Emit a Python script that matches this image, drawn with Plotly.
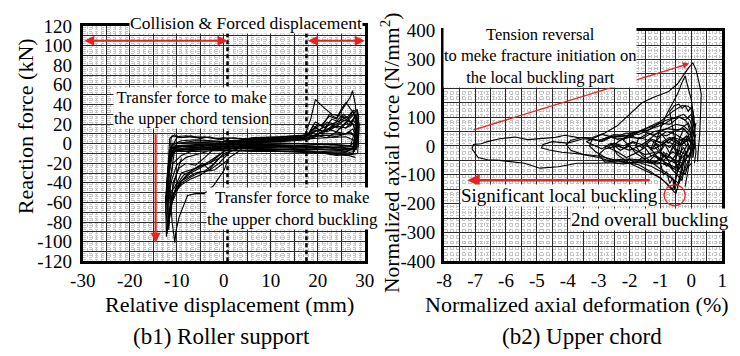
import plotly.graph_objects as go

# ---------------- (b1) Roller support: relative displacement (mm) vs reaction force (kN)
RS_C1_X = [0, 4, 8, 12, 16, 18, 20, 22, 24, 26, 27.5, 28, 27.6, 25, 21, 17, 12, 6, 0, -5, -9, -11, -11.6, -11.9, -11.7, -11.2, -10.5, -9, -6, -3, 0]
RS_C1_Y = [0, 1, 2, 2, 3, 4, 8, 6, 12, 10, 15, 8, -3, -4, -3, -2, -2, -3, -3, -2, -3, -4, -12, -28, -35, -15, 0, 3, 4, 3, 2]

RS_C2_X = [0, 5, 10, 15, 18, 19.5, 21, 23, 25, 26.5, 27.8, 28.3, 28, 26, 22, 18, 13, 8, 3, -2, -7, -10.5, -11.8, -12.2, -12, -11.4, -10.8, -9, -7, -4, 0]
RS_C2_Y = [2, 3, 3, 4, 5, 14, 10, 18, 15, 24, 30, 20, -6, -5, -4, -4, -3, -4, -3, -4, -4, -5, -20, -45, -60, -40, -20, -12, -8, -2, 2]

RS_C3_X = [0, 6, 12, 17, 18.5, 19.5, 21, 23, 25, 27, 28.2, 28.5, 27.8, 25, 20, 15, 10, 5, 0, -5, -9, -11, -12, -12.3, -11.8, -11, -9.5, -7, -4, -1, 1.5]
RS_C3_Y = [3, 4, 4, 5, 25, 45, 38, 30, 28, 22, 18, 5, -8, -6, -3, -2, -1, -2, -1, -2, -3, -5, -30, -70, -85, -55, -40, -30, -22, -15, -8]

RS_C4_X = [1.5, 6, 12, 17, 19, 21, 22.5, 24, 25, 26, 27, 27.4, 28, 28.3, 27.5, 25, 20, 15, 9, 3, -3, -8, -10.5, -11.5, -11, -10.4, -10.2, -9.5, -7.7, -6, -4.2, -2.2, 0.1, 1]
RS_C4_Y = [-8, 1, 3, 5, 15, 20, 28, 25, 33, 40, 48, 54, 40, 22, -5, -6, -5, -4, -3, -4, -5, -6, -8, -40, -80, -101, -90, -75, -53, -51, -51, -43, -27, -15]

RS_C5_X = [1, 5, 10, 15, 18, 20, 22, 24, 26, 27.5, 28.4, 28.7, 28.5, 26, 22, 17, 12, 7, 2, -3, -8, -11, -12, -12.1, -11.7, -11, -9, -6, -4, -2, 0]
RS_C5_Y = [-15, -2, 2, 4, 6, 10, 14, 20, 24, 30, 35, 28, 0, -9, -8, -7, -6, -6, -5, -5, -6, -8, -35, -92, -80, -60, -38, -30, -28, -20, -10]

RS_C6_X = [0, 6, 12, 17, 18.5, 20, 21.5, 23, 24.5, 25.5, 26.5, 27.5, 28, 27.5, 24, 19, 14, 8, 2, -4, -9, -11.2, -11.9, -11.6, -11.2, -10, -8.5, -6, -3, 0]
RS_C6_Y = [-10, 0, 4, 6, 12, 20, 16, 25, 22, 30, 25, 20, 12, -10, -12, -8, -6, -5, -5, -4, -5, -7, -45, -70, -60, -42, -32, -26, -18, -8]

RS_C7_X = [0, 6, 12, 16, 18, 20, 22, 24, 26, 27.5, 28, 27, 23, 18, 12, 6, 0, -6, -10, -11.5, -11.8, -11.5, -10.5, -9, -6, -3, 0]
RS_C7_Y = [-8, 2, 5, 7, 9, 14, 12, 18, 16, 20, 14, -2, -4, -3, -2, -1, 0, -1, -2, -6, -25, -50, -45, -30, -25, -20, -8]

RS_C8_X = [0, 5, 11, 16, 18, 19.5, 21, 22.5, 24, 25, 26, 27, 27.8, 28.2, 27.6, 25, 21, 16, 10, 4, -2, -7, -10.8, -11.6, -12, -11.8, -11.2, -10.5, -9, -7, -5, -2, 0.5]
RS_C8_Y = [-5, 3, 6, 7, 10, 22, 18, 30, 26, 35, 42, 36, 30, 15, -10, -7, -6, -5, -4, -4, -3, -5, -8, -30, -60, -78, -65, -50, -40, -34, -29, -27, -18]

RS_C9_X = [0, 8, 16, 20, 24, 27, 28.5, 28, 24, 18, 10, 2, -6, -11, -11.5, -11.2, -10, -6, 0]
RS_C9_Y = [-3, 6, 8, 8, 9, 10, 6, -3, -1, 0, 1, 2, 1, 0, -15, -5, 6, 7, 5]

RS_C10_X = [0, 7, 14, 18, 20, 22, 24, 26, 27, 28, 28.6, 28, 25, 20, 14, 8, 2, -4, -9, -11.4, -12, -11.5, -10.5, -9, -7.5, -6, -4.5, -3, -1, 1]
RS_C10_Y = [2, 5, 6, 6, 9, 15, 12, 22, 18, 30, 25, -4, -7, -6, -6, -5, -5, -6, -6, -10, -40, -56, -50, -38, -30, -25, -20, -27, -20, -10]

RS_C11_X = [1, 6, 12, 17, 19, 21, 23, 25, 26.5, 27.6, 28.4, 28.8, 28.6, 26, 22, 17, 11, 5, -1, -7, -10.5, -11.6, -12.4, -12.2, -11.6, -10.6, -9, -7, -5, -3, -1]
RS_C11_Y = [0, 4, 5, 6, 11, 16, 20, 24, 28, 34, 32, 20, -3, -8, -9, -8, -7, -7, -6, -7, -8, -20, -55, -95, -70, -50, -42, -36, -32, -26, -15]

RS_C12_X = [0, 5, 10, 15, 18, 22, 26, 28, 27, 22, 15, 8, 0, -6, -10, -11, -10, -6, 0]
RS_C12_Y = [0, 2, 3, 4, 5, 6, 7, 3, -2, -1, 0, -1, -1, -2, -3, -8, 0, 3, 2]

RS_C13_X = [0, 6, 12, 16, 18, 19, 20.5, 22, 23.5, 25, 26.5, 27.5, 28.3, 28.6, 28.2, 25, 20, 14, 8, 2, -4, -9, -11.3, -11.9, -11.6, -11.3, -10.8, -9.5, -8, -6, -4, -2, 0]
RS_C13_Y = [0, 6, 7, 8, 9, 18, 14, 22, 20, 28, 26, 33, 25, 15, -6, -4, -3, -3, -2, -3, -2, -3, -5, -38, -55, -66, -40, -25, -20, -22, -14, -5, 0]

RS_C14_X = [0, 5, 10, 15, 18, 19.5, 21, 22.5, 24, 25.5, 27, 28, 28.8, 28.5, 26, 22, 17, 12, 6, 0, -6, -10, -11.2, -11.8, -11.5, -11, -10, -8, -5, -2, 0]
RS_C14_Y = [-2, 5, 6, 7, 8, 16, 12, 20, 17, 24, 22, 28, 20, -10, -12, -10, -9, -8, -8, -7, -8, -8, -9, -35, -48, -36, -22, -14, -10, -6, -2]

RS_C15_X = [-11.8, -11.5, -11, -10, -8, -6, -4, -2, 0, 4, 8, 12, 16, 18.5, 20, 22, 24, 26, 27.5, 28.5]
RS_C15_Y = [-20, 5, 8, 7, 8, 6, 7, 5, 6, 5, 6, 5, 6, 7, 10, 14, 18, 16, 24, 18]

RS_C16_X = [28, 25, 20, 15, 10, 5, 0, -5, -10, -11.5, -12, -11.7, -11.3, -10.8, -10, -9]
RS_C16_Y = [-14, -10, -9, -8, -8, -7, -7, -6, -6, -9, -45, -88, -60, -45, -30, -15]

RS_C17_X = [-11.6, -11.2, -10.5, -9, -7, -5, -3, -1, 2, 6, 10, 14, 18, 21, 24, 27, 28.4]
RS_C17_Y = [-30, 6, 9, 6, 8, 5, 7, 4, 6, 4, 5, 4, 5, 9, 7, 12, 4]

RS_XTICKS = [-30, -25, -20, -15, -10, -5, 0, 5, 10, 15, 20, 25, 30]
RS_XLABELS = ["-30", "", "-20", "", "-10", "", "0", "", "10", "", "20", "", "30"]
RS_YTICKS = [-120, -110, -100, -90, -80, -70, -60, -50, -40, -30, -20, -10, 0,
             10, 20, 30, 40, 50, 60, 70, 80, 90, 100, 110, 120]
RS_YLABELS = ["-120", "", "-100", "", "-80", "", "-60", "", "-40", "", "-20", "", "0",
              "", "20", "", "40", "", "60", "", "80", "", "100", "", "120"]

# boundaries of the forced-displacement zones (mm)
RS_ZONE_EDGES = [0.8, 17.6]

# ---------------- (b2) Upper chord: normalized axial deformation (%) vs normalized axial force (N/mm2)
UC_C1_X = [-1.0, -1.6, -2.2, -2.6, -3.05, -3.7, -4.3, -4.9, -5.4, -5.8, -6.2, -6.6, -6.9, -7.1, -7.05, -6.8, -6.6, -6.2, -5.7, -5.3, -4.9, -4.4, -4.1, -3.7, -3.25, -2.8, -2.4, -2.0, -1.6, -1.2, -0.75, -0.45, -0.3, -0.1, 0.05, 0.15, 0.25, 0.32, 0.3, 0.27, 0.22, 0.2]
UC_C1_Y = [-60, -55, -62, -58, -60, -60, -72, -77, -60, -55, -50, -48, -40, -10, 5, 8, 15, 25, 31, 22, 25, 30, 37, 30, 28, 45, 70, 110, 150, 170, 188, 215, 240, 270, 288, 265, 220, 180, 120, 40, -20, -55]

UC_C2_X = [0.0, -0.3, -0.7, -1.1, -1.5, -2.0, -2.5, -3.0, -3.6, -4.2, -4.6, -4.85, -4.8, -4.5, -4.0, -3.5, -3.0, -2.5, -2.0, -1.5, -1.0, -0.6, -0.3, -0.1, 0.05, 0.12, 0.1, 0.05]
UC_C2_Y = [-60, -95, -70, -55, -50, -45, -48, -35, -28, -22, -14, -7, 5, 15, 10, 25, 20, 35, 30, 60, 85, 120, 140, 138, 120, 60, 0, -40]

UC_C3_X = [-0.1, -0.4, -0.8, -1.3, -1.8, -2.4, -3.0, -3.5, -3.9, -4.05, -3.9, -3.5, -3.0, -2.5, -2.0, -1.6, -1.2, -0.8, -0.5, -0.25, -0.05, 0.1, 0.15, 0.1]
UC_C3_Y = [-50, -130, -100, -70, -55, -60, -40, -30, -15, 5, 20, 30, 18, 40, 35, 55, 70, 90, 100, 110, 90, 40, -20, -60]

UC_C4_X = [-0.2, -0.5, -0.9, -1.3, -1.7, -2.2, -2.7, -3.1, -3.3, -3.2, -2.9, -2.5, -2.1, -1.7, -1.3, -0.9, -0.6, -0.35, -0.15, 0.0, 0.05]
UC_C4_Y = [-40, -165, -120, -90, -65, -55, -45, -20, 0, 25, 40, 30, 45, 40, 60, 75, 95, 100, 85, 40, -30]

UC_C5_X = [-0.3, -0.6, -1.0, -1.5, -2.0, -2.4, -2.55, -2.3, -2.0, -1.6, -1.2, -0.8, -0.5, -0.25, -0.05, 0.1]
UC_C5_Y = [-30, -150, -110, -85, -60, -30, 0, 20, 30, 25, 50, 60, 75, 70, 50, -10]

UC_C6_X = [-0.2, -0.45, -0.7, -1.0, -1.3, -1.6, -1.8, -1.7, -1.4, -1.1, -0.8, -0.5, -0.25, -0.05, 0.1]
UC_C6_Y = [-20, -140, -100, -80, -55, -30, 0, 30, 20, 45, 35, 55, 60, 40, -5]

UC_C7_X = [-0.1, -0.3, -0.55, -0.8, -1.1, -1.3, -1.2, -0.9, -0.6, -0.3, -0.1, 0.05]
UC_C7_Y = [0, -120, -90, -60, -40, -10, 20, 10, 30, 20, 35, 5]

UC_C8_X = [0.0, -0.2, -0.4, -0.6, -0.8, -1.0, -0.9, -0.7, -0.5, -0.3, -0.15, 0.0, 0.1]
UC_C8_Y = [-20, -100, -60, -80, -40, -20, 10, -5, 20, 5, 25, 10, -10]

UC_C9_X = [0.0, -0.1, -0.25, -0.4, -0.5, -0.45, -0.3, -0.15, 0.0, 0.1, 0.15]
UC_C9_Y = [0, 40, 60, 20, -50, -90, -60, -20, 10, 50, 80]

UC_C10_X = [-0.9, -1.2, -1.0, -0.8, -0.6, -0.45, -0.3, -0.2, -0.1, 0.0, 0.08, 0.1, 0.05]
UC_C10_Y = [-40, 0, 60, 110, 150, 180, 220, 243, 200, 160, 100, 20, -40]

UC_C11_X = [-0.4, -0.8, -1.2, -1.6, -2.0, -2.4, -2.8, -3.0, -2.8, -2.4, -2.0, -1.6, -1.2, -0.8, -0.4, -0.1]
UC_C11_Y = [-80, -60, -62, -55, -58, -52, -56, -30, -10, 0, -15, 5, -10, 15, 0, 20]

UC_C12_X = [-0.3, -0.7, -1.1, -1.5, -1.9, -2.2, -2.0, -1.6, -1.2, -0.8, -0.4, -0.1, 0.1]
UC_C12_Y = [-60, -40, -20, -30, -10, 20, 45, 50, 40, 60, 55, 80, 30]

UC_C13_X = [-0.2, -0.5, -0.8, -1.0, -1.3, -1.5, -1.8, -2.0, -2.3, -2.6, -2.9, -3.2, -3.4, -3.2, -2.9, -2.6, -2.3, -2.0, -1.7, -1.4, -1.1, -0.8, -0.5, -0.2]
UC_C13_Y = [-30, -60, -45, -20, -35, -5, -25, 0, -15, 10, -10, 5, 15, 25, 15, 30, 20, 38, 25, 45, 30, 50, 40, 20]

UC_C14_X = [-0.1, -0.35, -0.6, -0.9, -1.2, -1.5, -1.8, -2.1, -2.4, -2.7, -2.5, -2.2, -1.9, -1.6, -1.3, -1.0, -0.7, -0.4, -0.15, 0.05]
UC_C14_Y = [10, -40, -20, -50, -30, -45, -25, -40, -20, -5, 10, 0, 15, 5, 25, 10, 30, 15, 35, 0]

UC_C15_X = [-0.3, -0.45, -0.55, -0.6, -0.7, -0.8, -0.9, -1.0, -0.9, -0.75, -0.6, -0.45, -0.3, -0.15]
UC_C15_Y = [0, -80, -150, -110, -130, -90, -100, -60, -20, -40, 0, -30, 20, 0]

UC_C16_X = [-0.5, -0.6, -0.7, -0.55, -0.4, -0.3, -0.2, -0.1, 0.0, 0.05, 0.0, -0.1, -0.2]
UC_C16_Y = [0, 60, 120, 140, 145, 130, 140, 120, 135, 80, 0, -80, -140]

UC_C17_X = [-1.6, -1.45, -1.3, -1.15, -1.0, -0.85, -0.7, -0.55, -0.4, -0.25, -0.1, 0.0]
UC_C17_Y = [-10, 10, -15, 8, -20, 5, -25, 0, -30, -5, -40, -10]

UC_C18_X = [-2.2, -2.0, -1.8, -1.6, -1.4, -1.2, -1.0, -0.8, -0.6, -0.4, -0.2, 0.0, 0.15]
UC_C18_Y = [-55, -45, -60, -40, -55, -35, -50, -25, -45, -15, -30, 0, 40]

UC_C19_X = [-3.0, -2.6, -2.2, -1.8, -1.4, -1.0, -0.7, -0.4, -0.2, 0.0, 0.1]
UC_C19_Y = [15, 30, 25, 50, 55, 80, 75, 100, 90, 110, 60]

UC_C20_X = [-2.8, -2.5, -2.2, -1.9, -1.6, -1.3, -1.0, -0.7, -0.4, -0.1]
UC_C20_Y = [-5, 10, -8, 12, -5, 20, 0, 25, 5, 30]

UC_C21_X = [-1.2, -1.0, -0.8, -0.6, -0.4, -0.2, 0.0, -0.15, -0.35, -0.55, -0.75, -0.95, -1.15]
UC_C21_Y = [-60, -40, -70, -45, -80, -50, -20, 20, 0, 30, 10, 40, 15]

UC_XTICKS = [-8, -7.5, -7, -6.5, -6, -5.5, -5, -4.5, -4, -3.5, -3, -2.5, -2, -1.5, -1, -0.5, 0, 0.5, 1]
UC_XLABELS = ["-8", "", "-7", "", "-6", "", "-5", "", "-4", "", "-3", "", "-2", "", "-1", "", "0", "", "1"]
UC_YTICKS = [-400, -350, -300, -250, -200, -150, -100, -50, 0, 50, 100, 150, 200, 250, 300, 350, 400]
UC_YLABELS = ["-400", "", "-300", "", "-200", "", "-100", "", "0", "", "100", "", "200", "", "300", "", "400"]

roller_loops = [
    (RS_C1_X, RS_C1_Y), (RS_C2_X, RS_C2_Y), (RS_C3_X, RS_C3_Y), (RS_C4_X, RS_C4_Y),
    (RS_C5_X, RS_C5_Y), (RS_C6_X, RS_C6_Y), (RS_C7_X, RS_C7_Y), (RS_C8_X, RS_C8_Y),
    (RS_C9_X, RS_C9_Y), (RS_C10_X, RS_C10_Y), (RS_C11_X, RS_C11_Y), (RS_C12_X, RS_C12_Y),
    (RS_C13_X, RS_C13_Y), (RS_C14_X, RS_C14_Y), (RS_C15_X, RS_C15_Y), (RS_C16_X, RS_C16_Y),
    (RS_C17_X, RS_C17_Y),
]
chord_loops = [
    (UC_C1_X, UC_C1_Y), (UC_C2_X, UC_C2_Y), (UC_C3_X, UC_C3_Y), (UC_C4_X, UC_C4_Y),
    (UC_C5_X, UC_C5_Y), (UC_C6_X, UC_C6_Y), (UC_C7_X, UC_C7_Y), (UC_C8_X, UC_C8_Y),
    (UC_C9_X, UC_C9_Y), (UC_C10_X, UC_C10_Y), (UC_C11_X, UC_C11_Y), (UC_C12_X, UC_C12_Y),
    (UC_C13_X, UC_C13_Y), (UC_C14_X, UC_C14_Y), (UC_C15_X, UC_C15_Y), (UC_C16_X, UC_C16_Y),
    (UC_C17_X, UC_C17_Y), (UC_C18_X, UC_C18_Y), (UC_C19_X, UC_C19_Y), (UC_C20_X, UC_C20_Y),
    (UC_C21_X, UC_C21_Y),
]

SERIF = "Liberation Serif"
W, H = 740, 356

fig = go.Figure()
for xs, ys in roller_loops:
    fig.add_trace(go.Scatter(x=xs, y=ys, mode="lines", xaxis="x", yaxis="y",
                             line=dict(color="black", width=1.1),
                             showlegend=False, hoverinfo="skip"))
for xs, ys in chord_loops:
    fig.add_trace(go.Scatter(x=xs, y=ys, mode="lines", xaxis="x2", yaxis="y2",
                             line=dict(color="black", width=1.1),
                             showlegend=False, hoverinfo="skip"))


def axis_style(tickvals, ticktext, rng, domain, anchor, minor_step, minor_start, standoff=0):
    return dict(
        domain=domain, range=rng, anchor=anchor,
        tickmode="array", tickvals=tickvals, ticktext=ticktext,
        ticks="", ticklabelstandoff=standoff,
        showgrid=True, gridcolor="#2a2a2a", gridwidth=1.2,
        minor=dict(tickmode="linear", tick0=minor_start, dtick=minor_step,
                   showgrid=True, gridcolor="#c4c4c4", griddash="dot", gridwidth=1),
        showline=True, linewidth=3, linecolor="black", mirror=True,
        zeroline=False, tickfont=dict(family=SERIF, size=19, color="black"),
        fixedrange=True,
    )


def px_x(p):
    return p / W


def px_y(p):
    return 1 - p / H


fig.update_layout(
    width=W, height=H,
    margin=dict(l=0, r=0, t=0, b=0),
    paper_bgcolor="white", plot_bgcolor="white",
    font=dict(family=SERIF, color="black"),
    xaxis=axis_style(RS_XTICKS, RS_XLABELS, [-30, 30], [px_x(72), px_x(363)], "y", 1, -30),
    yaxis=axis_style(RS_YTICKS, RS_YLABELS, [-120, 120], [px_y(267), px_y(17)], "x", 2, -120, 4),
    xaxis2=axis_style(UC_XTICKS, UC_XLABELS, [-8, 1], [px_x(445), px_x(732)], "y2", 0.1, -8),
    yaxis2=axis_style(UC_YTICKS, UC_YLABELS, [-400, 400], [px_y(267), px_y(22)], "x2", 10, -400, 2),
)

shapes = []
for xe in RS_ZONE_EDGES:
    shapes.append(dict(type="line", xref="x", yref="y", x0=xe, x1=xe, y0=-120, y1=120,
                       line=dict(color="black", width=2.5, dash="4px,3px"), layer="above"))
# circle marking the second overall buckling
shapes.append(dict(type="circle", xref="x2", yref="y2", x0=-0.88, x1=-0.2, y0=-207, y1=-135,
                   line=dict(color="#e8231f", width=1.2)))
fig.update_layout(shapes=shapes)

RED = "#e8231f"
ann = []


def arrow(x, y, ax, ay, xr, yr, width, side="end"):
    ann.append(dict(x=x, y=y, ax=ax, ay=ay, xref=xr, yref=yr, axref=xr, ayref=yr,
                    text="", showarrow=True, arrowhead=2, arrowsize=1, arrowwidth=width,
                    arrowcolor=RED, arrowside=side))


arrow(0.8, 105, -30, 105, "x", "y", 2, "end+start")
arrow(30, 105, 17.6, 105, "x", "y", 2, "end+start")
arrow(-14.5, -101, -14.5, 11, "x", "y", 2)
arrow(30.8, 55, 30.8, -46, "x", "y", 2)
arrow(-0.07, 286, -7.1, 54, "x2", "y2", 1.3)
arrow(-7.25, -119, -1.3, -119, "x2", "y2", 2.5)


def label(text, cx, cy, size=16, bg="white", angle=0, xanchor="center"):
    ann.append(dict(text=text, x=px_x(cx), y=px_y(cy), xref="paper", yref="paper",
                    xanchor=xanchor, yanchor="middle", showarrow=False, textangle=angle,
                    font=dict(family=SERIF, size=size, color="black"),
                    bgcolor=bg, borderpad=0, align="center"))


label("Collision &amp; Forced displacement", 240, 14, 17.5)
label("Transfer force to make<br>the upper chord tension", 184, 104, 16.5)
label("Transfer force to make<br>the upper chord buckling", 288, 211, 17)
label("Tension reversal<br>to meke fracture initiation on<br>the local buckling part", 544, 49, 16.5)
label("Significant local buckling", 564, 197, 19)
label("2nd overall buckling", 740, 223, 19, xanchor="right")

label("Reaction force (kN)", 13, 124, 22, bg="rgba(0,0,0,0)", angle=-90)
label("Relative displacement (mm)", 223, 313, 22, bg="rgba(0,0,0,0)")
label("(b1) Roller support", 215, 347, 23, bg="rgba(0,0,0,0)")
label("Normalized axial force (N/mm<sup>2</sup>)", 389, 152, 21.5, bg="rgba(0,0,0,0)", angle=-90)
label("Normalized axial deformation (%)", 740, 313, 22, bg="rgba(0,0,0,0)", xanchor="right")
label("(b2) Upper chord", 587, 347, 23, bg="rgba(0,0,0,0)")

fig.update_layout(annotations=ann)

fig.write_html("out.html", config={"displayModeBar": False})
